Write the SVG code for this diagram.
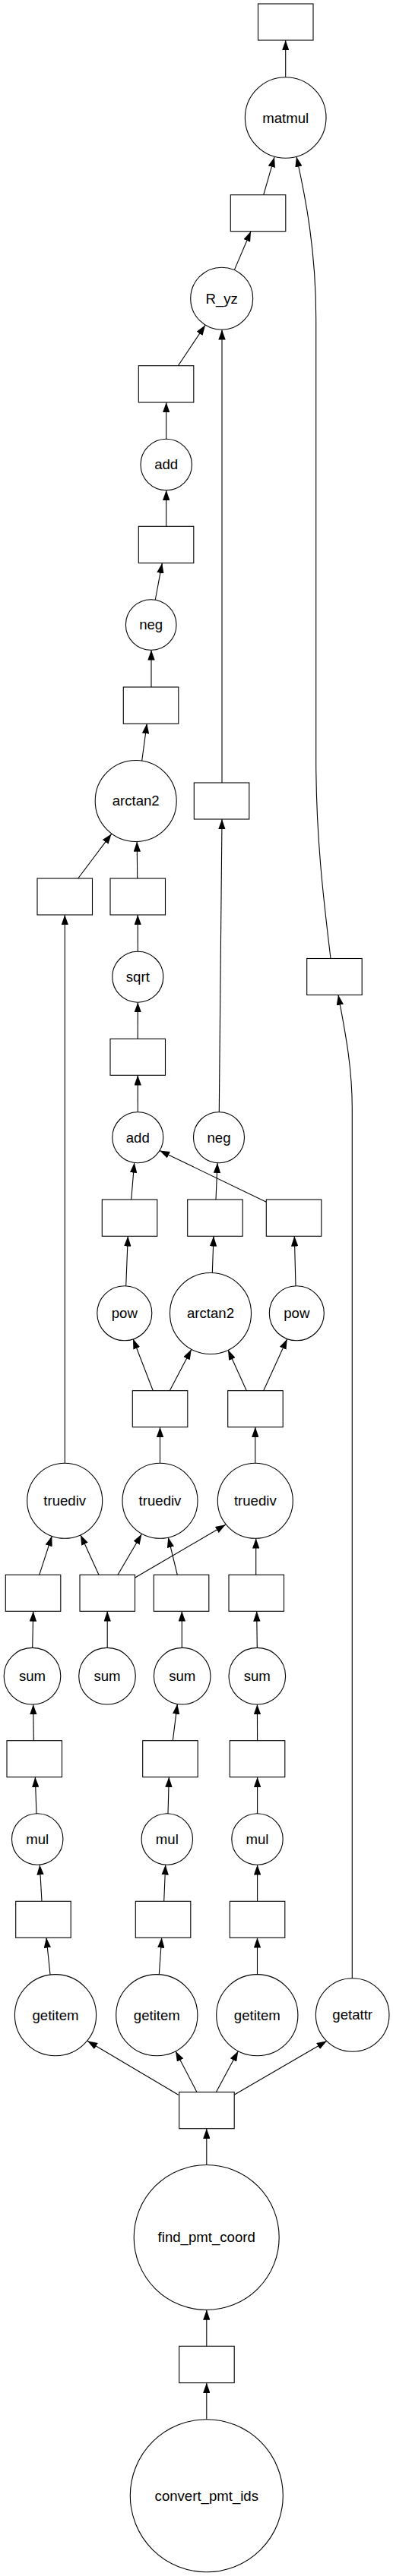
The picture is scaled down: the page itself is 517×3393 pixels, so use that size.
<svg xmlns="http://www.w3.org/2000/svg" width="517" height="3393" viewBox="0 0 517 3393">
<style>
.n rect{fill:#fff;stroke:#000;stroke-width:1.1}
.n circle{fill:#fff;stroke:#000;stroke-width:1.1}
.n text{font-family:"Liberation Sans",Arial,Helvetica,sans-serif;font-size:18.6px;text-anchor:middle;fill:#000}
#edges path{fill:none;stroke:#000;stroke-width:1.1;marker-end:url(#ah)}
</style>
<defs>
<marker id="ah" markerUnits="userSpaceOnUse" markerWidth="13.3" markerHeight="9.4" viewBox="0 0 13.3 9.4" refX="13.3" refY="4.7" orient="auto">
<path d="M0,0 L13.3,4.7 L0,9.4 z" fill="#000"/>
</marker>
</defs>
<rect width="517" height="3393" fill="#fff"/>
<g id="edges">
<path d="M375.7,101.7 L375.7,53"/>
<path d="M346.7,256.7 L361,206.9"/>
<path d="M435,1262.5 C425,1180 415.7,1100 415.7,1000 L415.7,420 C415.7,330 402,260 390,206.5"/>
<path d="M308.3,355.6 L330,304.7"/>
<path d="M234.3,481.7 L270,428.3"/>
<path d="M292,1031 L292,434.2"/>
<path d="M218.7,578.3 L218.7,530"/>
<path d="M218.7,693.3 L218.7,645.7"/>
<path d="M204.3,790 L213.3,741.7"/>
<path d="M199,905 L199,856.3"/>
<path d="M186.7,1002 L193.3,953"/>
<path d="M288.3,1464.7 L292,1079"/>
<path d="M102.7,1157 L146.7,1098.3"/>
<path d="M180.7,1157 L180.2,1108.5"/>
<path d="M85.3,1927.3 L85.3,1205"/>
<path d="M181.3,1253.2 L181.2,1205"/>
<path d="M181.2,1368.3 L181.3,1320.2"/>
<path d="M181.3,1464.7 L181.2,1416.3"/>
<path d="M172.7,1580 L176.7,1531.4"/>
<path d="M284,1580 L286,1531.7"/>
<path d="M350.3,1583.3 L210,1515.5"/>
<path d="M165.7,1694 L168.3,1628.3"/>
<path d="M279.3,1676.7 L281,1628.3"/>
<path d="M389,1694 L387.3,1628.3"/>
<path d="M463.3,2605.7 L463.3,1460 C463.3,1400 452,1350 445,1310.5"/>
<path d="M201.3,1831.7 L175,1763.5"/>
<path d="M223.3,1831.7 L251.7,1777.5"/>
<path d="M324.3,1831.7 L300,1778"/>
<path d="M346.7,1831.7 L377.7,1763.7"/>
<path d="M210.5,1927.3 L210.5,1879.7"/>
<path d="M335.8,1927.3 L335.8,1879.7"/>
<path d="M51.7,2074.3 L68.3,2023.3"/>
<path d="M130,2074.3 L106,2021.7"/>
<path d="M155,2074.3 L186.3,2020.8"/>
<path d="M177.3,2078.3 L296.7,2008.3"/>
<path d="M233.3,2074.3 L221.3,2025"/>
<path d="M336.7,2074.3 L336.7,2026.3"/>
<path d="M42.7,2170.4 L43.7,2122.3"/>
<path d="M141.2,2170.4 L141.2,2122.3"/>
<path d="M239.3,2170.4 L239.3,2122.3"/>
<path d="M338.3,2170.4 L337.7,2122.3"/>
<path d="M44.3,2292.7 L43.7,2245"/>
<path d="M227.3,2292.7 L233.3,2244.5"/>
<path d="M338.6,2292.7 L338.4,2245"/>
<path d="M48,2389 L46.3,2340.7"/>
<path d="M221,2389 L222.3,2340.7"/>
<path d="M338.6,2389 L338.6,2340.7"/>
<path d="M55,2504.3 L52.3,2456.2"/>
<path d="M215.7,2504.3 L217.7,2456.2"/>
<path d="M338.6,2504.3 L338.6,2456.2"/>
<path d="M66,2600.8 L61,2552.3"/>
<path d="M209.3,2600.8 L212.7,2552.3"/>
<path d="M338.5,2600.8 L338.5,2552.3"/>
<path d="M234.7,2759.3 L115,2688.3"/>
<path d="M259,2755.7 L231,2701.7"/>
<path d="M284.3,2755.7 L313.3,2701.7"/>
<path d="M308,2759.3 L430,2688.3"/>
<path d="M271.8,2851.5 L271.8,2803.7"/>
<path d="M271.8,3090.3 L271.8,3042.5"/>
<path d="M271.8,3186.7 L271.8,3138.7"/>
</g>
<g id="r_top" class="n"><rect x="339.5" y="5" width="72.5" height="48"/></g>
<g id="matmul" class="n"><circle cx="375.7" cy="155" r="53.3"/><text x="375.7" y="161.5">matmul</text></g>
<g id="r_rs" class="n"><rect x="303.3" y="256.7" width="72.5" height="48"/></g>
<g id="R_yz" class="n"><circle cx="291.7" cy="393.2" r="41"/><text x="291.7" y="399.5">R_yz</text></g>
<g id="r_add1" class="n"><rect x="182.3" y="481.7" width="72.5" height="48.3"/></g>
<g id="add1" class="n"><circle cx="218.7" cy="612" r="33.7"/><text x="218.7" y="618.3">add</text></g>
<g id="r_neg1" class="n"><rect x="182.3" y="693.3" width="72.5" height="48.3"/></g>
<g id="neg1" class="n"><circle cx="198.7" cy="823" r="33.3"/><text x="198.7" y="829.3">neg</text></g>
<g id="r_arc1" class="n"><rect x="162.3" y="905" width="72.5" height="48.3"/></g>
<g id="arctan2a" class="n"><circle cx="178.7" cy="1055" r="53.5"/><text x="178.7" y="1061.3">arctan2</text></g>
<g id="r_neg2" class="n"><rect x="255.3" y="1031" width="72.5" height="48"/></g>
<g id="r_getattr" class="n"><rect x="403.7" y="1262.5" width="72.5" height="48"/></g>
<g id="r8" class="n"><rect x="49" y="1157" width="72.5" height="48"/></g>
<g id="r9" class="n"><rect x="145" y="1157" width="72.5" height="48"/></g>
<g id="sqrt" class="n"><circle cx="181.3" cy="1286.7" r="33.5"/><text x="181.3" y="1293">sqrt</text></g>
<g id="r10" class="n"><rect x="145" y="1368.3" width="72.5" height="48"/></g>
<g id="add2" class="n"><circle cx="181.3" cy="1498.2" r="33.5"/><text x="181.3" y="1504.5">add</text></g>
<g id="neg2" class="n"><circle cx="288" cy="1498.2" r="33.5"/><text x="288" y="1504.5">neg</text></g>
<g id="r11" class="n"><rect x="134.3" y="1580" width="72.5" height="48.3"/></g>
<g id="r12" class="n"><rect x="246.7" y="1580" width="72.5" height="48.3"/></g>
<g id="r13" class="n"><rect x="350.3" y="1580" width="72.5" height="48.3"/></g>
<g id="pow1" class="n"><circle cx="163.8" cy="1729.8" r="36"/><text x="163.8" y="1736.1">pow</text></g>
<g id="arctan2b" class="n"><circle cx="277" cy="1730" r="53.5"/><text x="277" y="1736.3">arctan2</text></g>
<g id="pow2" class="n"><circle cx="390.3" cy="1729.8" r="36"/><text x="390.3" y="1736.1">pow</text></g>
<g id="r14" class="n"><rect x="174.3" y="1831.7" width="72.5" height="48"/></g>
<g id="r15" class="n"><rect x="299.7" y="1831.7" width="72.5" height="48"/></g>
<g id="truediv1" class="n"><circle cx="85.2" cy="1976.8" r="49.5"/><text x="85.2" y="1983.1">truediv</text></g>
<g id="truediv2" class="n"><circle cx="210.5" cy="1976.8" r="49.5"/><text x="210.5" y="1983.1">truediv</text></g>
<g id="truediv3" class="n"><circle cx="335.8" cy="1976.8" r="49.5"/><text x="335.8" y="1983.1">truediv</text></g>
<g id="rA" class="n"><rect x="7.3" y="2074.3" width="72.5" height="48"/></g>
<g id="rB" class="n"><rect x="105" y="2074.3" width="72.5" height="48"/></g>
<g id="rC" class="n"><rect x="202.3" y="2074.3" width="72.5" height="48"/></g>
<g id="rD" class="n"><rect x="301" y="2074.3" width="72.5" height="48"/></g>
<g id="sum1" class="n"><circle cx="42.5" cy="2207.7" r="37.3"/><text x="42.5" y="2214">sum</text></g>
<g id="sum2" class="n"><circle cx="141" cy="2207.7" r="37.3"/><text x="141" y="2214">sum</text></g>
<g id="sum3" class="n"><circle cx="239.7" cy="2207.7" r="37.3"/><text x="239.7" y="2214">sum</text></g>
<g id="sum4" class="n"><circle cx="338.3" cy="2207.7" r="37.3"/><text x="338.3" y="2214">sum</text></g>
<g id="rE" class="n"><rect x="9" y="2292.7" width="72.5" height="48"/></g>
<g id="rF" class="n"><rect x="187.7" y="2292.7" width="72.5" height="48"/></g>
<g id="rG" class="n"><rect x="302.3" y="2292.7" width="72.5" height="48"/></g>
<g id="mul1" class="n"><circle cx="49.2" cy="2422.5" r="33.7"/><text x="49.2" y="2428.8">mul</text></g>
<g id="mul2" class="n"><circle cx="219.8" cy="2422.5" r="33.7"/><text x="219.8" y="2428.8">mul</text></g>
<g id="mul3" class="n"><circle cx="338.5" cy="2422.5" r="33.7"/><text x="338.5" y="2428.8">mul</text></g>
<g id="rH" class="n"><rect x="20.7" y="2504.3" width="72.5" height="48"/></g>
<g id="rI" class="n"><rect x="178.3" y="2504.3" width="72.5" height="48"/></g>
<g id="rJ" class="n"><rect x="302.3" y="2504.3" width="72.5" height="48"/></g>
<g id="getitem1" class="n"><circle cx="73" cy="2654.2" r="53.6"/><text x="73" y="2660.5">getitem</text></g>
<g id="getitem2" class="n"><circle cx="206.3" cy="2654.2" r="53.6"/><text x="206.3" y="2660.5">getitem</text></g>
<g id="getitem3" class="n"><circle cx="338.3" cy="2654.2" r="53.6"/><text x="338.3" y="2660.5">getitem</text></g>
<g id="getattr" class="n"><circle cx="463.7" cy="2654" r="48.3"/><text x="463.7" y="2660.3">getattr</text></g>
<g id="rK" class="n"><rect x="235.7" y="2755.7" width="72.5" height="48"/></g>
<g id="find_pmt_coord" class="n"><circle cx="271.7" cy="2947" r="95.5"/><text x="271.7" y="2953.3">find_pmt_coord</text></g>
<g id="rL" class="n"><rect x="235.7" y="3090.3" width="72.5" height="48.3"/></g>
<g id="convert_pmt_ids" class="n"><circle cx="271.8" cy="3287.2" r="100.5"/><text x="271.8" y="3293.5">convert_pmt_ids</text></g>
</svg>
